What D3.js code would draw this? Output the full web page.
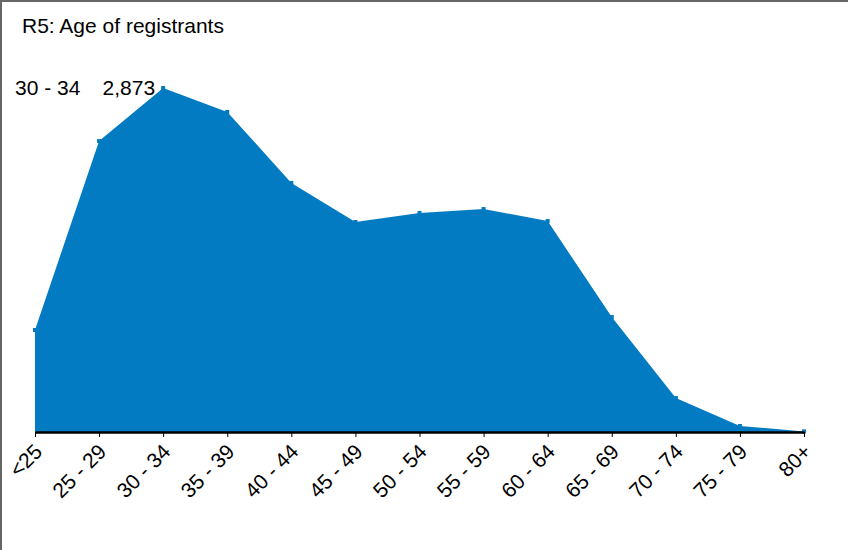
<!DOCTYPE html>
<html>
<head>
<meta charset="utf-8">
<script src="https://cdn.jsdelivr.net/npm/d3@7"></script>
<style>
  body { margin: 0; background: #fff; font-family: "Liberation Sans", Arial, sans-serif; }
  #chart { width: 848px; height: 550px; }
</style>
</head>
<body>
<div id="chart"></div>
<script>
//Datos
const categorias = ['<25', '25 - 29', '30 - 34', '35 - 39', '40 - 44', '45 - 49', '50 - 54', '55 - 59', '60 - 64', '65 - 69', '70 - 74', '75 - 79', '80+'];
const valores = [852, 2430, 2873, 2673, 2080, 1754, 1829, 1862, 1762, 960, 284, 50, 5];
const titulo = 'R5: Age of registrants';

const COLOR_AREA = '#037bc2';

let margin = {top: 88, right: 44, bottom: 118, left: 35},
    width = 848 - margin.left - margin.right,
    height = 550 - margin.top - margin.bottom;

let svg = d3.select('#chart')
    .append('svg')
        .attr('width', 848)
        .attr('height', 550);

//Marco
svg.append('line').attr('x1', 1).attr('x2', 1).attr('y1', 0).attr('y2', 550)
    .attr('stroke', '#666').attr('stroke-width', 2);
svg.append('line').attr('x1', 0).attr('x2', 848).attr('y1', 1).attr('y2', 1)
    .attr('stroke', '#666').attr('stroke-width', 2);

//Titulo
svg.append('text')
    .attr('x', 22).attr('y', 33)
    .style('font-size', '21px')
    .text(titulo);

let g = svg.append('g')
    .attr('transform', 'translate(' + margin.left + ',' + margin.top + ')');

let x = d3.scalePoint()
    .domain(categorias)
    .range([0, width]);

let y = d3.scaleLinear()
    .domain([0, d3.max(valores)])
    .range([height, 0]);

let datos = categorias.map(function(c, i) { return {cat: c, value: valores[i]}; });

//Area
g.append('path')
    .datum(datos)
    .attr('fill', COLOR_AREA)
    .attr('d', d3.area()
        .x(function(d) { return x(d.cat); })
        .y0(y(0))
        .y1(function(d) { return y(d.value); }));

//Marcadores
g.selectAll('.marker')
    .data(datos)
    .enter()
    .append('rect')
    .attr('class', 'marker')
    .attr('x', function(d) { return x(d.cat) - 2; })
    .attr('y', function(d) { return y(d.value) - 2; })
    .attr('width', 4)
    .attr('height', 4)
    .attr('fill', COLOR_AREA);

//Eje X
let xAxis = g.append('g')
    .attr('transform', 'translate(0,' + height + ')')
    .call(d3.axisBottom(x).tickSize(5).tickSizeOuter(0));

xAxis.select('.domain').attr('stroke', '#000').attr('stroke-width', 2.5);
xAxis.selectAll('.tick line').attr('stroke', '#000');
xAxis.selectAll('.tick text')
    .style('font-family', '"Liberation Sans", Arial, sans-serif')
    .style('font-size', '21px')
    .attr('fill', '#000')
    .attr('text-anchor', 'end')
    .attr('x', 0).attr('y', 0).attr('dy', 0)
    .attr('transform', 'translate(8,21) rotate(-45)');

//Anotacion del maximo
let maxDato = datos[d3.maxIndex(datos, function(d) { return d.value; })];
svg.append('text')
    .attr('x', 15).attr('y', 95)
    .style('font-size', '21px')
    .text(maxDato.cat);
svg.append('text')
    .attr('x', margin.left + x(maxDato.cat) - 8).attr('y', 95)
    .attr('text-anchor', 'end')
    .style('font-size', '21px')
    .text(d3.format(',')(maxDato.value));
</script>
</body>
</html>
